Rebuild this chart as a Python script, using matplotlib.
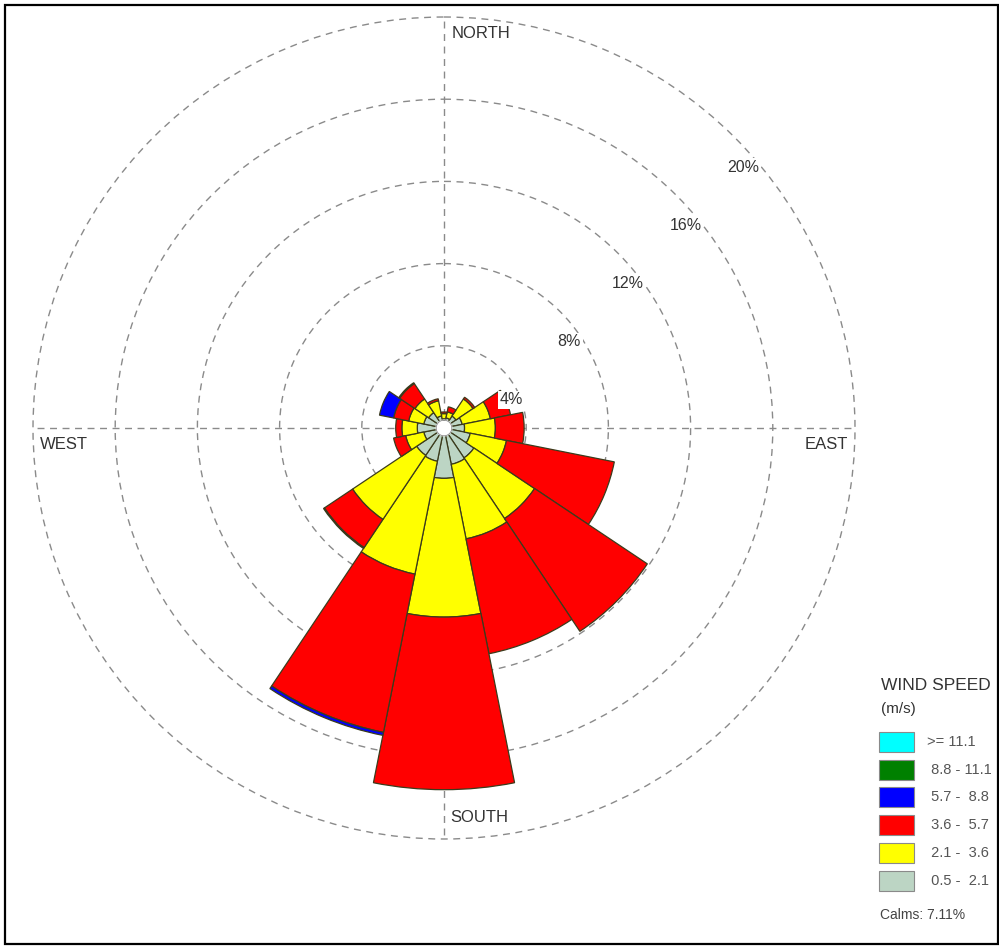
import numpy as np
import matplotlib
matplotlib.use("Agg")
import matplotlib.pyplot as plt
from matplotlib.patches import Rectangle

plt.rcParams['font.family'] = ['Liberation Sans', 'DejaVu Sans']

# Wind directions (blowing from), clockwise from north
directions = ["N", "NNE", "NE", "ENE", "E", "ESE", "SE", "SSE",
              "S", "SSW", "SW", "WSW", "W", "WNW", "NW", "NNW"]

# Frequency (%) of each speed class per direction
speed_05_21 = [0.45, 0.50, 0.70, 0.90, 1.00, 1.30, 1.75, 1.80,
               2.45, 1.65, 1.60, 1.00, 1.30, 1.00, 0.90, 0.60]
speed_21_36 = [0.25, 0.30, 1.00, 1.40, 1.50, 1.80, 3.55, 3.70,
               6.75, 5.60, 3.75, 0.90, 0.75, 0.75, 0.80, 0.75]
speed_36_57 = [0.08, 0.25, 0.10, 1.00, 1.40, 5.35, 6.60, 5.70,
               8.40, 7.85, 1.65, 0.60, 0.30, 0.75, 0.90, 0.10]
speed_57_88 = [0.00, 0.00, 0.00, 0.00, 0.00, 0.00, 0.00, 0.00,
               0.00, 0.15, 0.05, 0.00, 0.00, 0.70, 0.05, 0.00]
speed_88_111 = [0.0] * 16
speed_111_up = [0.0] * 16

class_labels = [">= 11.1", " 8.8 - 11.1", " 5.7 -  8.8", " 3.6 -  5.7",
                " 2.1 -  3.6", " 0.5 -  2.1"]
class_colors = ["#00FFFF", "#008000", "#0000FF", "#FF0000", "#FFFF00", "#BCD5C4"]
calms_pct = 7.11

ring_values = [4, 8, 12, 16, 20]

# stacking order from the centre outwards
stack = [speed_05_21, speed_21_36, speed_36_57, speed_57_88, speed_88_111, speed_111_up]
stack_colors = class_colors[::-1]

W, H = 999, 947
fig = plt.figure(figsize=(W / 100, H / 100), dpi=100, facecolor="white")

# 20 % ring sits 411 px from the centre; leave a little room beyond it
cx, cy, R20 = 444, 428, 411
rmax = 20.3
R = R20 * rmax / 20
ax = fig.add_axes([(cx - R) / W, (H - cy - R) / H, 2 * R / W, 2 * R / H],
                  projection="polar")
ax.set_theta_zero_location("N")
ax.set_theta_direction(-1)
ax.set_ylim(0, rmax)
ax.patch.set_alpha(0)
ax.spines["polar"].set_visible(False)
ax.set_axisbelow(True)

grid_style = dict(color="#8a8a8a", linestyle=(0, (5, 4)), linewidth=1.0)
ax.set_thetagrids([], labels=[])
ax.set_rgrids(ring_values, labels=[])
ax.yaxis.grid(True, **grid_style)
ax.xaxis.grid(False)
ax.tick_params(length=0)

# compass cross lines, ending on the outer ring
for ang in (0, 90, 180, 270):
    a = np.deg2rad(ang)
    ax.plot([a, a], [0, ring_values[-1]], zorder=1, **grid_style)

theta = np.deg2rad(np.arange(16) * 22.5)
width = np.deg2rad(22.5)
bottom = np.zeros(16)
for vals, col in zip(stack, stack_colors):
    vals = np.asarray(vals, dtype=float)
    mask = vals > 0
    ax.bar(theta[mask], vals[mask], width=width, bottom=bottom[mask],
           color=col, edgecolor="#3b3b1c", linewidth=0.9, zorder=3)
    bottom += vals

# white hub in the middle
t = np.linspace(0, 2 * np.pi, 200)
ax.fill(t, np.full_like(t, 0.38), color="white", zorder=4)
ax.plot(t, np.full_like(t, 0.38), color="#888888", linewidth=0.6, zorder=5)

# ring labels
for rv in ring_values:
    ax.annotate(f"{rv}%", xy=(np.deg2rad(45), rv), xytext=(9, -30),
                textcoords="offset pixels", ha="center", va="center",
                fontsize=11.5, color="#333333", zorder=6,
                bbox=dict(boxstyle="square,pad=0.1", fc="white", ec="none"))

# compass labels
lab_kw = dict(fontsize=12, color="#333333", va="center")
fig.text(452 / W, 1 - 33 / H, "NORTH", ha="left", **lab_kw)
fig.text(450 / W, 1 - 817 / H, "SOUTH", ha="left", **lab_kw)
fig.text(40 / W, 1 - 444 / H, "WEST", ha="left", **lab_kw)
fig.text(848 / W, 1 - 444 / H, "EAST", ha="right", **lab_kw)

# legend
fig.text(881 / W, 1 - 685 / H, "WIND SPEED", ha="left", va="center",
         fontsize=12.5, color="#333333")
fig.text(881 / W, 1 - 709 / H, "(m/s)", ha="left", va="center",
         fontsize=11, color="#333333")
row_y = [742, 770, 797, 825, 853, 881]
for lab, col, yy in zip(class_labels, class_colors, row_y):
    fig.patches.append(Rectangle((879 / W, 1 - (yy + 10) / H), 35 / W, 20 / H,
                                 transform=fig.transFigure, facecolor=col,
                                 edgecolor="#8a8a8a", linewidth=0.8))
    fig.text(927 / W, 1 - yy / H, lab, ha="left", va="center",
             fontsize=10.5, color="#555555")
fig.text(880 / W, 1 - 915 / H, f"Calms: {calms_pct:.2f}%", ha="left",
         va="center", fontsize=10, color="#444444")

# frame
fig.patches.append(Rectangle((5 / W, 3 / H), 993 / W, 939 / H,
                             transform=fig.transFigure, fill=False,
                             edgecolor="black", linewidth=1.6))

fig.savefig("out.png", dpi=100, facecolor="white")
